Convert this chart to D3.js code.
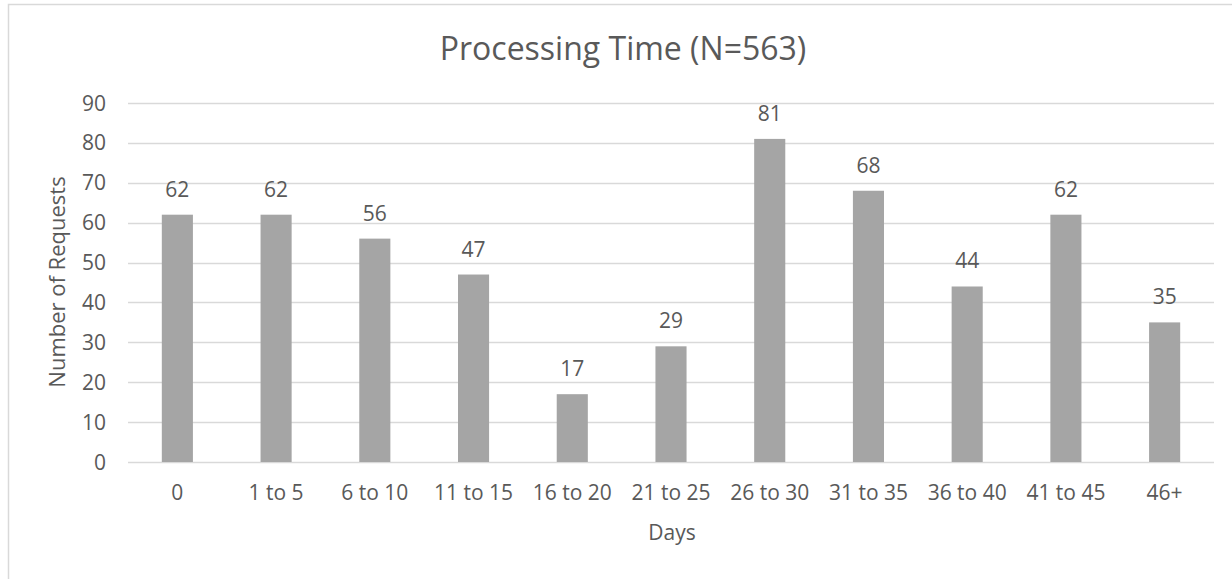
<!DOCTYPE html>
<html><head><meta charset="utf-8">
<script src="https://cdn.jsdelivr.net/npm/d3@7"></script>
<style>body{margin:0;background:#fff}svg{display:block}text{font-family:"Open Sans",sans-serif;fill:#595959}</style>
</head><body><svg id="c" width="1232" height="579"></svg>
<script>
const categories=["0","1 to 5","6 to 10","11 to 15","16 to 20","21 to 25","26 to 30","31 to 35","36 to 40","41 to 45","46+"];
const values=[62,62,56,47,17,29,81,68,44,62,35];
const yTicks=[0,10,20,30,40,50,60,70,80,90];
const title="Processing Time (N=563)";
const xTitle="Days", yTitle="Number of Requests";

const svg=d3.select("#c");
svg.append("rect").attr("x",8.5).attr("y",4.5).attr("width",1240).attr("height",600).attr("fill","#fff").attr("stroke","#d9d9d9").attr("stroke-width",1.5);
const L=128,R=1214,T=103,B=462;
const x=d3.scaleBand().domain(categories).range([L,R]).padding(0);
const y=d3.scaleLinear().domain([0,90]).range([B,T]);
const bw=x.bandwidth()*0.315;

const g=svg.append("g");
g.selectAll("line.grid").data(yTicks).join("line").attr("x1",L).attr("x2",R)
 .attr("y1",d=>Math.round(y(d))+0.5).attr("y2",d=>Math.round(y(d))+0.5).attr("stroke","#d9d9d9").attr("stroke-width",1.3);
g.selectAll("text.yt").data(yTicks).join("text").attr("x",106).attr("y",d=>y(d)+7.5).attr("text-anchor","end").attr("font-size",21).text(d=>d);
g.selectAll("rect.bar").data(values).join("rect").attr("x",(d,i)=>x(categories[i])+x.bandwidth()/2-bw/2).attr("width",bw)
 .attr("y",d=>y(d)).attr("height",d=>B-y(d)).attr("fill","#a5a5a5");
g.selectAll("text.lab").data(values).join("text").attr("x",(d,i)=>x(categories[i])+x.bandwidth()/2).attr("y",d=>y(d)-18)
 .attr("text-anchor","middle").attr("font-size",21).text(d=>d);
g.selectAll("text.xt").data(categories).join("text").attr("x",d=>x(d)+x.bandwidth()/2).attr("y",500)
 .attr("text-anchor","middle").attr("font-size",21).text(d=>d);
svg.append("text").attr("x",623).attr("y",60).attr("text-anchor","middle").attr("font-size",32).text(title);
svg.append("text").attr("x",(L+R)/2+1).attr("y",540).attr("text-anchor","middle").attr("font-size",21).text(xTitle);
svg.append("text").attr("transform","translate(65,282) rotate(-90)").attr("text-anchor","middle").attr("font-size",22).text(yTitle);
</script></body></html>
